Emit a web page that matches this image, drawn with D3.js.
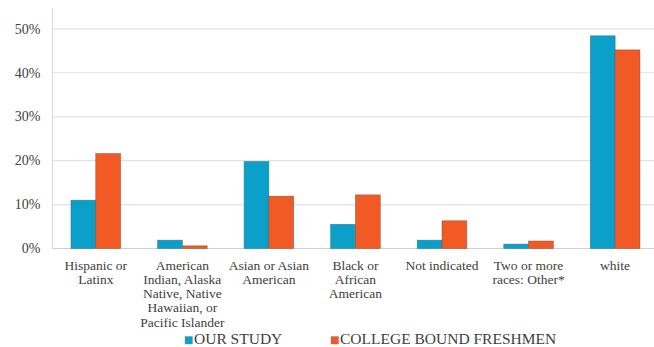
<!DOCTYPE html>
<html><head><meta charset="utf-8">
<script src="https://cdn.jsdelivr.net/npm/d3@7"></script>
</head>
<body style="margin:0">
<svg id="chart" width="654" height="347" font-family="Times New Roman"></svg>
<script>
const categories = ["Hispanic or Latinx","American Indian, Alaska Native, Native Hawaiian, or Pacific Islander","Asian or Asian American","Black or African American","Not indicated","Two or more races: Other*","white"];
const categoryLines = [
  ["Hispanic or","Latinx"],
  ["American","Indian, Alaska","Native, Native","Hawaiian, or","Pacific Islander"],
  ["Asian or Asian","American"],
  ["Black or","African","American"],
  ["Not indicated"],
  ["Two or more","races: Other*"],
  ["white"]
];
const seriesNames = ["OUR STUDY","COLLEGE BOUND FRESHMEN"];
const ourStudy = [0.110, 0.019, 0.198, 0.055, 0.019, 0.010, 0.484];
const collegeBound = [0.216, 0.006, 0.119, 0.122, 0.063, 0.017, 0.452];
const yTicks = [0, 0.1, 0.2, 0.3, 0.4, 0.5];
const colors = ["#0aa0c9", "#f15a24"];

const svg = d3.select("#chart");
const left = 52.5, right = 658.4, y0px = 248.5, y50px = 28.8, axisTop = 8;

const x0 = d3.scaleBand().domain(categories).range([left, right]).padding(0);
const step = x0.bandwidth();
const gapFrac = 0.2135;
const x1 = d3.scaleBand().domain(seriesNames).range([step*gapFrac, step*(1-gapFrac)]).padding(0);
const y = d3.scaleLinear().domain([0, 0.5]).range([y0px, y50px]);

// gridlines
svg.append("g").selectAll("line").data(yTicks).join("line")
  .attr("x1", left).attr("x2", right)
  .attr("y1", d => y(d)).attr("y2", d => y(d))
  .attr("stroke", d => d === 0 ? "#d0d0d0" : "#e2e2e2").attr("stroke-width", 1.2);
// left axis line
svg.append("line").attr("x1", left).attr("x2", left).attr("y1", axisTop).attr("y2", y(0))
  .attr("stroke", "#d9d9d9").attr("stroke-width", 1);

// y tick labels
svg.append("g").selectAll("text").data(yTicks).join("text")
  .attr("x", left - 12).attr("y", d => y(d)).attr("dy", "0.34em")
  .attr("text-anchor", "end").attr("fill", "#404040")
  .attr("font-family", "Times New Roman").attr("font-size", 14)
  .text(d => d3.format(".0%")(d));

// bars
const data = categories.map((c, i) => ({cat: c, vals: [ourStudy[i], collegeBound[i]]}));
const groups = svg.append("g").selectAll("g").data(data).join("g")
  .attr("transform", d => `translate(${x0(d.cat)},0)`);
groups.selectAll("rect").data(d => d.vals.map((v, j) => ({s: seriesNames[j], v, j})))
  .join("rect")
  .attr("x", d => x1(d.s)).attr("width", x1.bandwidth())
  .attr("y", d => y(d.v)).attr("height", d => y(0) - y(d.v))
  .attr("fill", d => colors[d.j])
  .attr("stroke", d => d.j === 0 ? "#2f6f85" : "#8a4a36").attr("stroke-width", 0.6).attr("stroke-opacity", 0.8);

// category labels
const lab = svg.append("g").selectAll("text").data(categories).join("text")
  .attr("text-anchor", "middle")
  .attr("x", d => x0(d) + step/2)
  .attr("y", 269.8)
  .attr("fill", "#404040")
  .attr("font-family", "Times New Roman")
  .attr("font-size", 13.5);
lab.each(function(d, i) {
  d3.select(this).selectAll("tspan").data(categoryLines[i]).join("tspan")
    .attr("x", x0(d) + step/2)
    .attr("dy", (t, k) => k === 0 ? 0 : 14.2)
    .text(t => t);
});

// legend
const legX = [185, 331];
const leg = svg.append("g").selectAll("g").data(seriesNames).join("g")
  .attr("transform", (d, i) => `translate(${legX[i]},336)`);
leg.append("rect").attr("width", 7.5).attr("height", 7.5).attr("y", 0.5)
  .attr("fill", (d, i) => colors[i]).attr("stroke", "#888").attr("stroke-width", 0.4);
leg.append("text").attr("x", 9).attr("y", 8.2).attr("fill", "#404040")
  .attr("font-family", "Times New Roman").attr("font-size", 15.5).text(d => d);
</script>
</body></html>
